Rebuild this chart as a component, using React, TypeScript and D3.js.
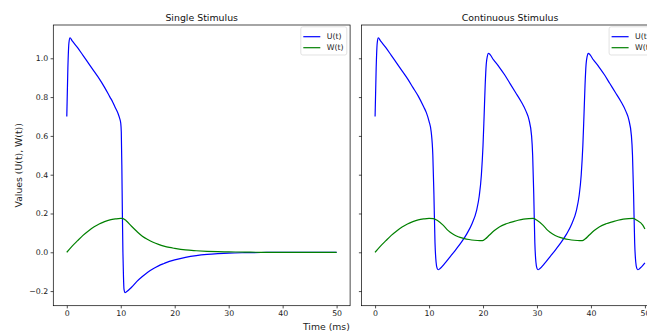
import React, { useEffect, useRef } from 'react';
import * as d3 from 'd3';

// time axis / value axis ticks
const xTicks = [0, 10, 20, 30, 40, 50];
const yTicks = [-0.2, 0, 0.2, 0.4, 0.6, 0.8, 1.0];

// Single stimulus
const singleUT = [0, 0.2, 0.4, 0.6, 1, 2, 3, 4, 5, 6, 7, 8, 8.5, 9, 9.5, 9.8, 10.0, 10.1, 10.2, 10.3, 10.4, 10.5, 10.6, 10.8, 11, 12, 13, 14, 15, 16, 17, 18, 19, 20, 22, 24, 26, 28, 30, 33, 36, 40, 45, 50];
const singleU = [0.70, 0.95, 1.08, 1.105, 1.09, 1.055, 1.015, 0.975, 0.935, 0.895, 0.85, 0.80, 0.775, 0.745, 0.715, 0.69, 0.665, 0.62, 0.45, 0.2, 0.0, -0.12, -0.19, -0.208, -0.205, -0.18, -0.15, -0.125, -0.103, -0.085, -0.07, -0.058, -0.047, -0.039, -0.026, -0.017, -0.011, -0.007, -0.004, -0.002, -0.001, 0, 0, 0];
const singleWT = [0, 1, 2, 3, 4, 5, 6, 7, 8, 9, 10, 10.3, 11, 12, 13, 14, 15, 16, 17, 18, 19, 20, 22, 24, 26, 28, 30, 33, 36, 40, 50];
const singleW = [0, 0.032, 0.06, 0.087, 0.11, 0.13, 0.146, 0.158, 0.167, 0.172, 0.175, 0.175, 0.163, 0.134, 0.107, 0.083, 0.066, 0.052, 0.041, 0.032, 0.025, 0.02, 0.012, 0.008, 0.005, 0.003, 0.002, 0.001, 0, 0, 0];

// Continuous stimulus
const contUT = [0, 0.2, 0.4, 0.6, 1, 2, 3, 4, 5, 6, 7, 8, 9, 9.5, 10, 10.4, 10.7, 10.9, 11.1, 11.3, 11.5, 11.7,
  12, 13, 14, 15, 16, 17, 18, 18.8, 19.3, 19.7, 20.0, 20.2, 20.4, 20.6, 20.8, 21.0,
  22, 23, 24, 25, 26, 27, 28, 28.5, 29.0, 29.2, 29.4, 29.6, 29.8, 30.0, 30.2,
  30.5, 31.5, 32.5, 33.5, 34.5, 35.5, 36.5, 37.3, 37.8, 38.2, 38.5, 38.7, 38.9, 39.1, 39.3, 39.5,
  40.5, 41.5, 42.5, 43.5, 44.5, 45.5, 46.5, 47.0, 47.5, 47.7, 47.9, 48.1, 48.3, 48.5, 48.7, 49.0, 50.0];
const contU = [0.70, 0.95, 1.08, 1.105, 1.09, 1.055, 1.015, 0.975, 0.935, 0.895, 0.85, 0.805, 0.75, 0.72, 0.675, 0.62, 0.5, 0.3, 0.05, -0.05, -0.083, -0.09,
  -0.085, -0.055, -0.02, 0.015, 0.052, 0.095, 0.15, 0.215, 0.29, 0.40, 0.55, 0.70, 0.86, 0.97, 1.01, 1.025,
  0.99, 0.955, 0.915, 0.87, 0.825, 0.78, 0.725, 0.685, 0.6, 0.5, 0.3, 0.05, -0.05, -0.083, -0.09,
  -0.085, -0.055, -0.02, 0.015, 0.052, 0.095, 0.15, 0.215, 0.29, 0.40, 0.55, 0.70, 0.86, 0.97, 1.01, 1.025,
  0.99, 0.955, 0.915, 0.87, 0.825, 0.78, 0.725, 0.685, 0.6, 0.5, 0.3, 0.05, -0.05, -0.083, -0.09, -0.085, -0.055];
const contWT = [0, 1, 2, 3, 4, 5, 6, 7, 8, 9, 10, 10.8, 11.5, 12.6, 13.5, 14.4, 15.4, 16.4, 17.4, 18.4, 19.4, 19.9,
  20.4, 21.2, 22.1, 23.1, 24.3, 25.6, 26.5, 27.5, 28.5, 29.3,
  30.0, 31.1, 32.0, 32.9, 33.9, 34.9, 35.9, 36.9, 37.9, 38.4,
  38.9, 39.7, 40.6, 41.6, 42.8, 44.1, 45.0, 46.0, 47.0, 47.8,
  48.5, 49.6, 50];
const contW = [0, 0.032, 0.06, 0.087, 0.11, 0.13, 0.146, 0.158, 0.167, 0.172, 0.175, 0.174, 0.165, 0.14, 0.113, 0.094, 0.08, 0.072, 0.066, 0.062, 0.06, 0.06,
  0.068, 0.089, 0.112, 0.132, 0.147, 0.158, 0.165, 0.171, 0.174, 0.175,
  0.165, 0.14, 0.113, 0.094, 0.08, 0.072, 0.066, 0.062, 0.06, 0.06,
  0.068, 0.089, 0.112, 0.132, 0.147, 0.158, 0.165, 0.171, 0.174, 0.175,
  0.165, 0.14, 0.12];

const FONT = '"DejaVu Sans", sans-serif';

export default function App() {
  const svgRef = useRef<SVGSVGElement>(null);

  useEffect(() => {
    if (!svgRef.current) return;
    const svg = d3.select(svgRef.current);
    svg.selectAll('*').remove();

    const top = 25;
    const bottom = 305.7;
    const panelW = 296.8;

    const y = d3.scaleLinear().domain([-0.2753, 1.1716]).range([bottom, top]);

    const panels = [
      { title: 'Single Stimulus', left: 53.3, uT: singleUT, u: singleU, wT: singleWT, w: singleW, labels: true },
      { title: 'Continuous Stimulus', left: 361.6, uT: contUT, u: contU, wT: contWT, w: contW, labels: false }
    ];

    panels.forEach(p => {
      const x = d3.scaleLinear().domain([-2.5, 52.5]).range([p.left, p.left + panelW]);
      const g = svg.append('g');

      const line = d3.line<[number, number]>()
        .x(d => x(d[0]))
        .y(d => y(d[1]))
        .curve(d3.curveMonotoneX);

      g.append('path')
        .datum(p.uT.map((t, i) => [t, p.u[i]] as [number, number]))
        .attr('fill', 'none')
        .attr('stroke', '#0000ff')
        .attr('stroke-width', 1.2)
        .attr('d', line);

      g.append('path')
        .datum(p.wT.map((t, i) => [t, p.w[i]] as [number, number]))
        .attr('fill', 'none')
        .attr('stroke', '#008000')
        .attr('stroke-width', 1.2)
        .attr('d', line);

      // X axis
      const xa = g.append('g')
        .attr('transform', `translate(0,${bottom})`)
        .call(d3.axisBottom(x).tickValues(xTicks).tickSize(2.7).tickPadding(2.4).tickFormat(d3.format('d')));
      xa.select('.domain').remove();

      // Y axis
      const ya = g.append('g')
        .attr('transform', `translate(${p.left},0)`)
        .call(d3.axisLeft(y).tickValues(yTicks).tickSize(2.7).tickPadding(2.4)
          .tickFormat(p.labels ? d3.format('.1f') : () => ''));
      ya.select('.domain').remove();

      [xa, ya].forEach(a => {
        a.attr('font-family', FONT).attr('font-size', 7.8);
        a.selectAll('line').attr('stroke', '#000').attr('stroke-width', 0.7);
        a.selectAll('text').attr('fill', '#222');
      });

      // spines
      g.append('rect')
        .attr('x', p.left)
        .attr('y', top)
        .attr('width', panelW)
        .attr('height', bottom - top)
        .attr('fill', 'none')
        .attr('stroke', '#000')
        .attr('stroke-width', 0.7);

      // title
      g.append('text')
        .attr('x', p.left + panelW / 2)
        .attr('y', 20.8)
        .attr('text-anchor', 'middle')
        .attr('font-family', FONT)
        .attr('font-size', 9.4)
        .attr('fill', '#111')
        .text(p.title);

      // legend
      const boxW = 46;
      const lx = p.left + panelW - 3.3 - boxW;
      const leg = g.append('g').attr('transform', `translate(${lx},26.8)`);
      leg.append('rect')
        .attr('width', boxW)
        .attr('height', 28.2)
        .attr('rx', 2)
        .attr('fill', 'rgba(255,255,255,0.8)')
        .attr('stroke', '#d6d6d6')
        .attr('stroke-width', 0.7);
      [
        { label: 'U(t)', color: '#0000ff', dy: 9.9 },
        { label: 'W(t)', color: '#008000', dy: 20.9 }
      ].forEach(item => {
        leg.append('line')
          .attr('x1', 2.5).attr('x2', 19.5)
          .attr('y1', item.dy).attr('y2', item.dy)
          .attr('stroke', item.color)
          .attr('stroke-width', 1.2);
        leg.append('text')
          .attr('x', 26)
          .attr('y', item.dy + 2.8)
          .attr('font-family', FONT)
          .attr('font-size', 7.8)
          .attr('fill', '#222')
          .text(item.label);
      });
    });

    // shared labels
    svg.append('text')
      .attr('x', 326.4)
      .attr('y', 330)
      .attr('text-anchor', 'middle')
      .attr('font-family', FONT)
      .attr('font-size', 9.3)
      .attr('fill', '#222')
      .text('Time (ms)');

    svg.append('text')
      .attr('transform', `translate(22,${(top + bottom) / 2}) rotate(-90)`)
      .attr('text-anchor', 'middle')
      .attr('font-family', FONT)
      .attr('font-size', 9.3)
      .attr('fill', '#222')
      .text('Values (U(t), W(t))');
  }, []);

  return (
    <svg
      ref={svgRef}
      width={647}
      height={331}
      style={{ position: 'absolute', left: 0, top: 0, background: '#fff' }}
    />
  );
}
